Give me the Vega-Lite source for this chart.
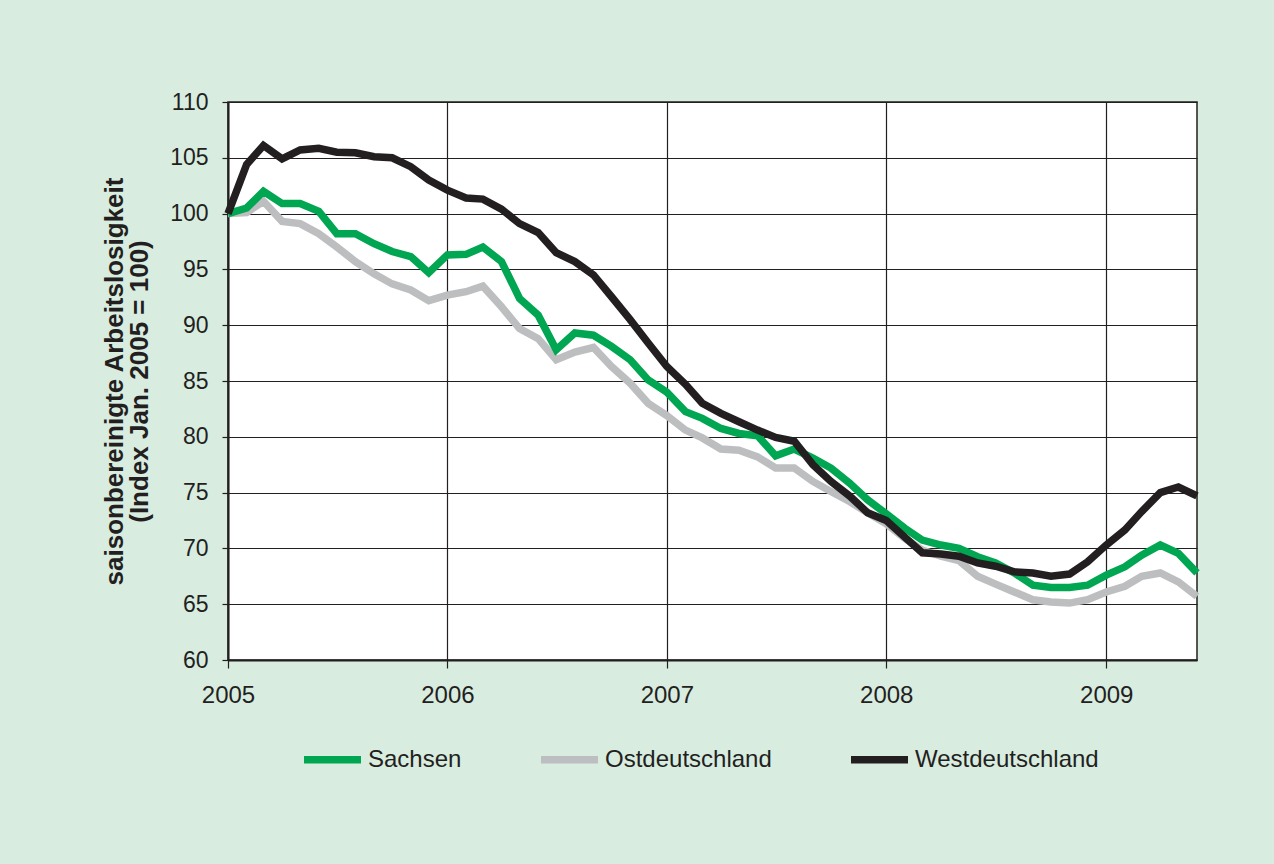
{
  "$schema": "https://vega.github.io/schema/vega-lite/v6.json",
  "autosize": "none",
  "width": 969,
  "height": 558,
  "padding": {"left": 228, "top": 102, "right": 77, "bottom": 204},
  "background": "#d9ece0",
  "config": {
    "font": "Liberation Sans",
    "view": {"fill": "white", "stroke": "#231f20", "strokeWidth": 1.5}
  },
  "data": {
    "values": [
      {"date": "2005-01-01", "Sachsen": 100, "Ostdeutschland": 100, "Westdeutschland": 100},
      {"date": "2005-02-01", "Sachsen": 100.5, "Ostdeutschland": 100.1, "Westdeutschland": 104.4},
      {"date": "2005-03-01", "Sachsen": 102.0, "Ostdeutschland": 101.1, "Westdeutschland": 106.1},
      {"date": "2005-04-01", "Sachsen": 100.9, "Ostdeutschland": 99.3, "Westdeutschland": 104.9},
      {"date": "2005-05-01", "Sachsen": 100.9, "Ostdeutschland": 99.1, "Westdeutschland": 105.7},
      {"date": "2005-06-01", "Sachsen": 100.2, "Ostdeutschland": 98.2, "Westdeutschland": 105.85},
      {"date": "2005-07-01", "Sachsen": 98.2, "Ostdeutschland": 97.0, "Westdeutschland": 105.5},
      {"date": "2005-08-01", "Sachsen": 98.2, "Ostdeutschland": 95.7, "Westdeutschland": 105.45},
      {"date": "2005-09-01", "Sachsen": 97.3, "Ostdeutschland": 94.6, "Westdeutschland": 105.1},
      {"date": "2005-10-01", "Sachsen": 96.6, "Ostdeutschland": 93.7, "Westdeutschland": 105.0},
      {"date": "2005-11-01", "Sachsen": 96.15, "Ostdeutschland": 93.15, "Westdeutschland": 104.2},
      {"date": "2005-12-01", "Sachsen": 94.7, "Ostdeutschland": 92.2, "Westdeutschland": 103.0},
      {"date": "2006-01-01", "Sachsen": 96.3, "Ostdeutschland": 92.7, "Westdeutschland": 102.1},
      {"date": "2006-02-01", "Sachsen": 96.35, "Ostdeutschland": 93.0, "Westdeutschland": 101.4},
      {"date": "2006-03-01", "Sachsen": 97.0, "Ostdeutschland": 93.5, "Westdeutschland": 101.3},
      {"date": "2006-04-01", "Sachsen": 95.7, "Ostdeutschland": 91.65, "Westdeutschland": 100.4},
      {"date": "2006-05-01", "Sachsen": 92.4, "Ostdeutschland": 89.7, "Westdeutschland": 99.1},
      {"date": "2006-06-01", "Sachsen": 90.9, "Ostdeutschland": 88.8, "Westdeutschland": 98.3},
      {"date": "2006-07-01", "Sachsen": 87.8, "Ostdeutschland": 86.9, "Westdeutschland": 96.5},
      {"date": "2006-08-01", "Sachsen": 89.3, "Ostdeutschland": 87.6, "Westdeutschland": 95.7},
      {"date": "2006-09-01", "Sachsen": 89.1, "Ostdeutschland": 88.0, "Westdeutschland": 94.5},
      {"date": "2006-10-01", "Sachsen": 88.1, "Ostdeutschland": 86.3, "Westdeutschland": 92.55},
      {"date": "2006-11-01", "Sachsen": 86.9, "Ostdeutschland": 84.8, "Westdeutschland": 90.5},
      {"date": "2006-12-01", "Sachsen": 85.1, "Ostdeutschland": 83.0, "Westdeutschland": 88.4},
      {"date": "2007-01-01", "Sachsen": 84.0, "Ostdeutschland": 81.9, "Westdeutschland": 86.3},
      {"date": "2007-02-01", "Sachsen": 82.25, "Ostdeutschland": 80.6, "Westdeutschland": 84.7},
      {"date": "2007-03-01", "Sachsen": 81.65, "Ostdeutschland": 79.9, "Westdeutschland": 83.0},
      {"date": "2007-04-01", "Sachsen": 80.75, "Ostdeutschland": 78.9, "Westdeutschland": 82.1},
      {"date": "2007-05-01", "Sachsen": 80.3, "Ostdeutschland": 78.8, "Westdeutschland": 81.35},
      {"date": "2007-06-01", "Sachsen": 80.1, "Ostdeutschland": 78.2, "Westdeutschland": 80.6},
      {"date": "2007-07-01", "Sachsen": 78.3, "Ostdeutschland": 77.2, "Westdeutschland": 79.95},
      {"date": "2007-08-01", "Sachsen": 78.9, "Ostdeutschland": 77.2, "Westdeutschland": 79.6},
      {"date": "2007-09-01", "Sachsen": 78.1, "Ostdeutschland": 76.0, "Westdeutschland": 77.5},
      {"date": "2007-10-01", "Sachsen": 77.2, "Ostdeutschland": 75.1, "Westdeutschland": 76.0},
      {"date": "2007-11-01", "Sachsen": 75.85, "Ostdeutschland": 74.2, "Westdeutschland": 74.7},
      {"date": "2007-12-01", "Sachsen": 74.35, "Ostdeutschland": 73.2, "Westdeutschland": 73.2},
      {"date": "2008-01-01", "Sachsen": 73.1, "Ostdeutschland": 72.2, "Westdeutschland": 72.5},
      {"date": "2008-02-01", "Sachsen": 71.8, "Ostdeutschland": 70.9, "Westdeutschland": 71.0},
      {"date": "2008-03-01", "Sachsen": 70.75, "Ostdeutschland": 69.85, "Westdeutschland": 69.6},
      {"date": "2008-04-01", "Sachsen": 70.3, "Ostdeutschland": 69.3, "Westdeutschland": 69.5},
      {"date": "2008-05-01", "Sachsen": 70.0, "Ostdeutschland": 68.9, "Westdeutschland": 69.3},
      {"date": "2008-06-01", "Sachsen": 69.25, "Ostdeutschland": 67.5, "Westdeutschland": 68.7},
      {"date": "2008-07-01", "Sachsen": 68.7, "Ostdeutschland": 66.8, "Westdeutschland": 68.4},
      {"date": "2008-08-01", "Sachsen": 67.8, "Ostdeutschland": 66.1, "Westdeutschland": 67.9},
      {"date": "2008-09-01", "Sachsen": 66.7, "Ostdeutschland": 65.4, "Westdeutschland": 67.8},
      {"date": "2008-10-01", "Sachsen": 66.5, "Ostdeutschland": 65.2, "Westdeutschland": 67.5},
      {"date": "2008-11-01", "Sachsen": 66.5, "Ostdeutschland": 65.1, "Westdeutschland": 67.7},
      {"date": "2008-12-01", "Sachsen": 66.7, "Ostdeutschland": 65.4, "Westdeutschland": 68.8},
      {"date": "2009-01-01", "Sachsen": 67.6, "Ostdeutschland": 66.1, "Westdeutschland": 70.3},
      {"date": "2009-02-01", "Sachsen": 68.35, "Ostdeutschland": 66.6, "Westdeutschland": 71.65},
      {"date": "2009-03-01", "Sachsen": 69.4, "Ostdeutschland": 67.5, "Westdeutschland": 73.3},
      {"date": "2009-04-01", "Sachsen": 70.3, "Ostdeutschland": 67.8, "Westdeutschland": 75.0},
      {"date": "2009-05-01", "Sachsen": 69.55, "Ostdeutschland": 67.0, "Westdeutschland": 75.5},
      {"date": "2009-06-01", "Sachsen": 67.8, "Ostdeutschland": 65.7, "Westdeutschland": 74.7}
    ]
  },
  "transform": [
    {"fold": ["Ostdeutschland", "Sachsen", "Westdeutschland"], "as": ["region", "value"]}
  ],
  "mark": {"type": "line", "strokeWidth": 7.5, "strokeJoin": "miter"},
  "encoding": {
    "x": {
      "field": "date",
      "type": "temporal",
      "scale": {"type": "utc", "nice": false},
      "axis": {
        "title": null,
        "format": "%Y",
        "tickCount": {"interval": "year", "step": 1},
        "grid": true,
        "gridColor": "#231f20",
        "gridWidth": 1.2,
        "gridOpacity": 1,
        "domainColor": "#231f20",
        "domainWidth": 2,
        "tickColor": "#231f20",
        "tickSize": 8,
        "tickWidth": 1.2,
        "labelFont": "Liberation Sans",
        "labelFontSize": 24,
        "labelColor": "#231f20",
        "labelPadding": 15,
        "labelFlush": false
      }
    },
    "y": {
      "field": "value",
      "type": "quantitative",
      "scale": {"domain": [60, 110], "nice": false, "zero": false},
      "axis": {
        "values": [60, 65, 70, 75, 80, 85, 90, 95, 100, 105, 110],
        "title": ["saisonbereinigte Arbeitslosigkeit", "(Index Jan. 2005 = 100)"],
        "titleFont": "Liberation Sans",
        "titleFontSize": 26,
        "titleFontWeight": "bold",
        "titleColor": "#231f20",
        "titlePadding": 17,
        "titleLineHeight": 25,
        "grid": true,
        "gridColor": "#231f20",
        "gridWidth": 1.2,
        "gridOpacity": 1,
        "domainColor": "#231f20",
        "domainWidth": 2,
        "tickColor": "#231f20",
        "tickSize": 6,
        "tickWidth": 1.2,
        "labelFont": "Liberation Sans",
        "labelFontSize": 23,
        "labelColor": "#231f20",
        "labelPadding": 14
      }
    },
    "color": {
      "field": "region",
      "type": "nominal",
      "scale": {
        "domain": ["Sachsen", "Ostdeutschland", "Westdeutschland"],
        "range": ["#00a651", "#bcbec0", "#231f20"]
      },
      "legend": {
        "title": null,
        "orient": "none",
        "legendX": 72,
        "legendY": 625,
        "direction": "horizontal",
        "symbolType": "stroke",
        "symbolStrokeWidth": 7.5,
        "symbolSize": 3249,
        "labelFont": "Liberation Sans",
        "labelFontSize": 24,
        "labelColor": "#231f20",
        "labelOffset": 3,
        "labelLimit": 0,
        "columnPadding": 64
      }
    }
  }
}
